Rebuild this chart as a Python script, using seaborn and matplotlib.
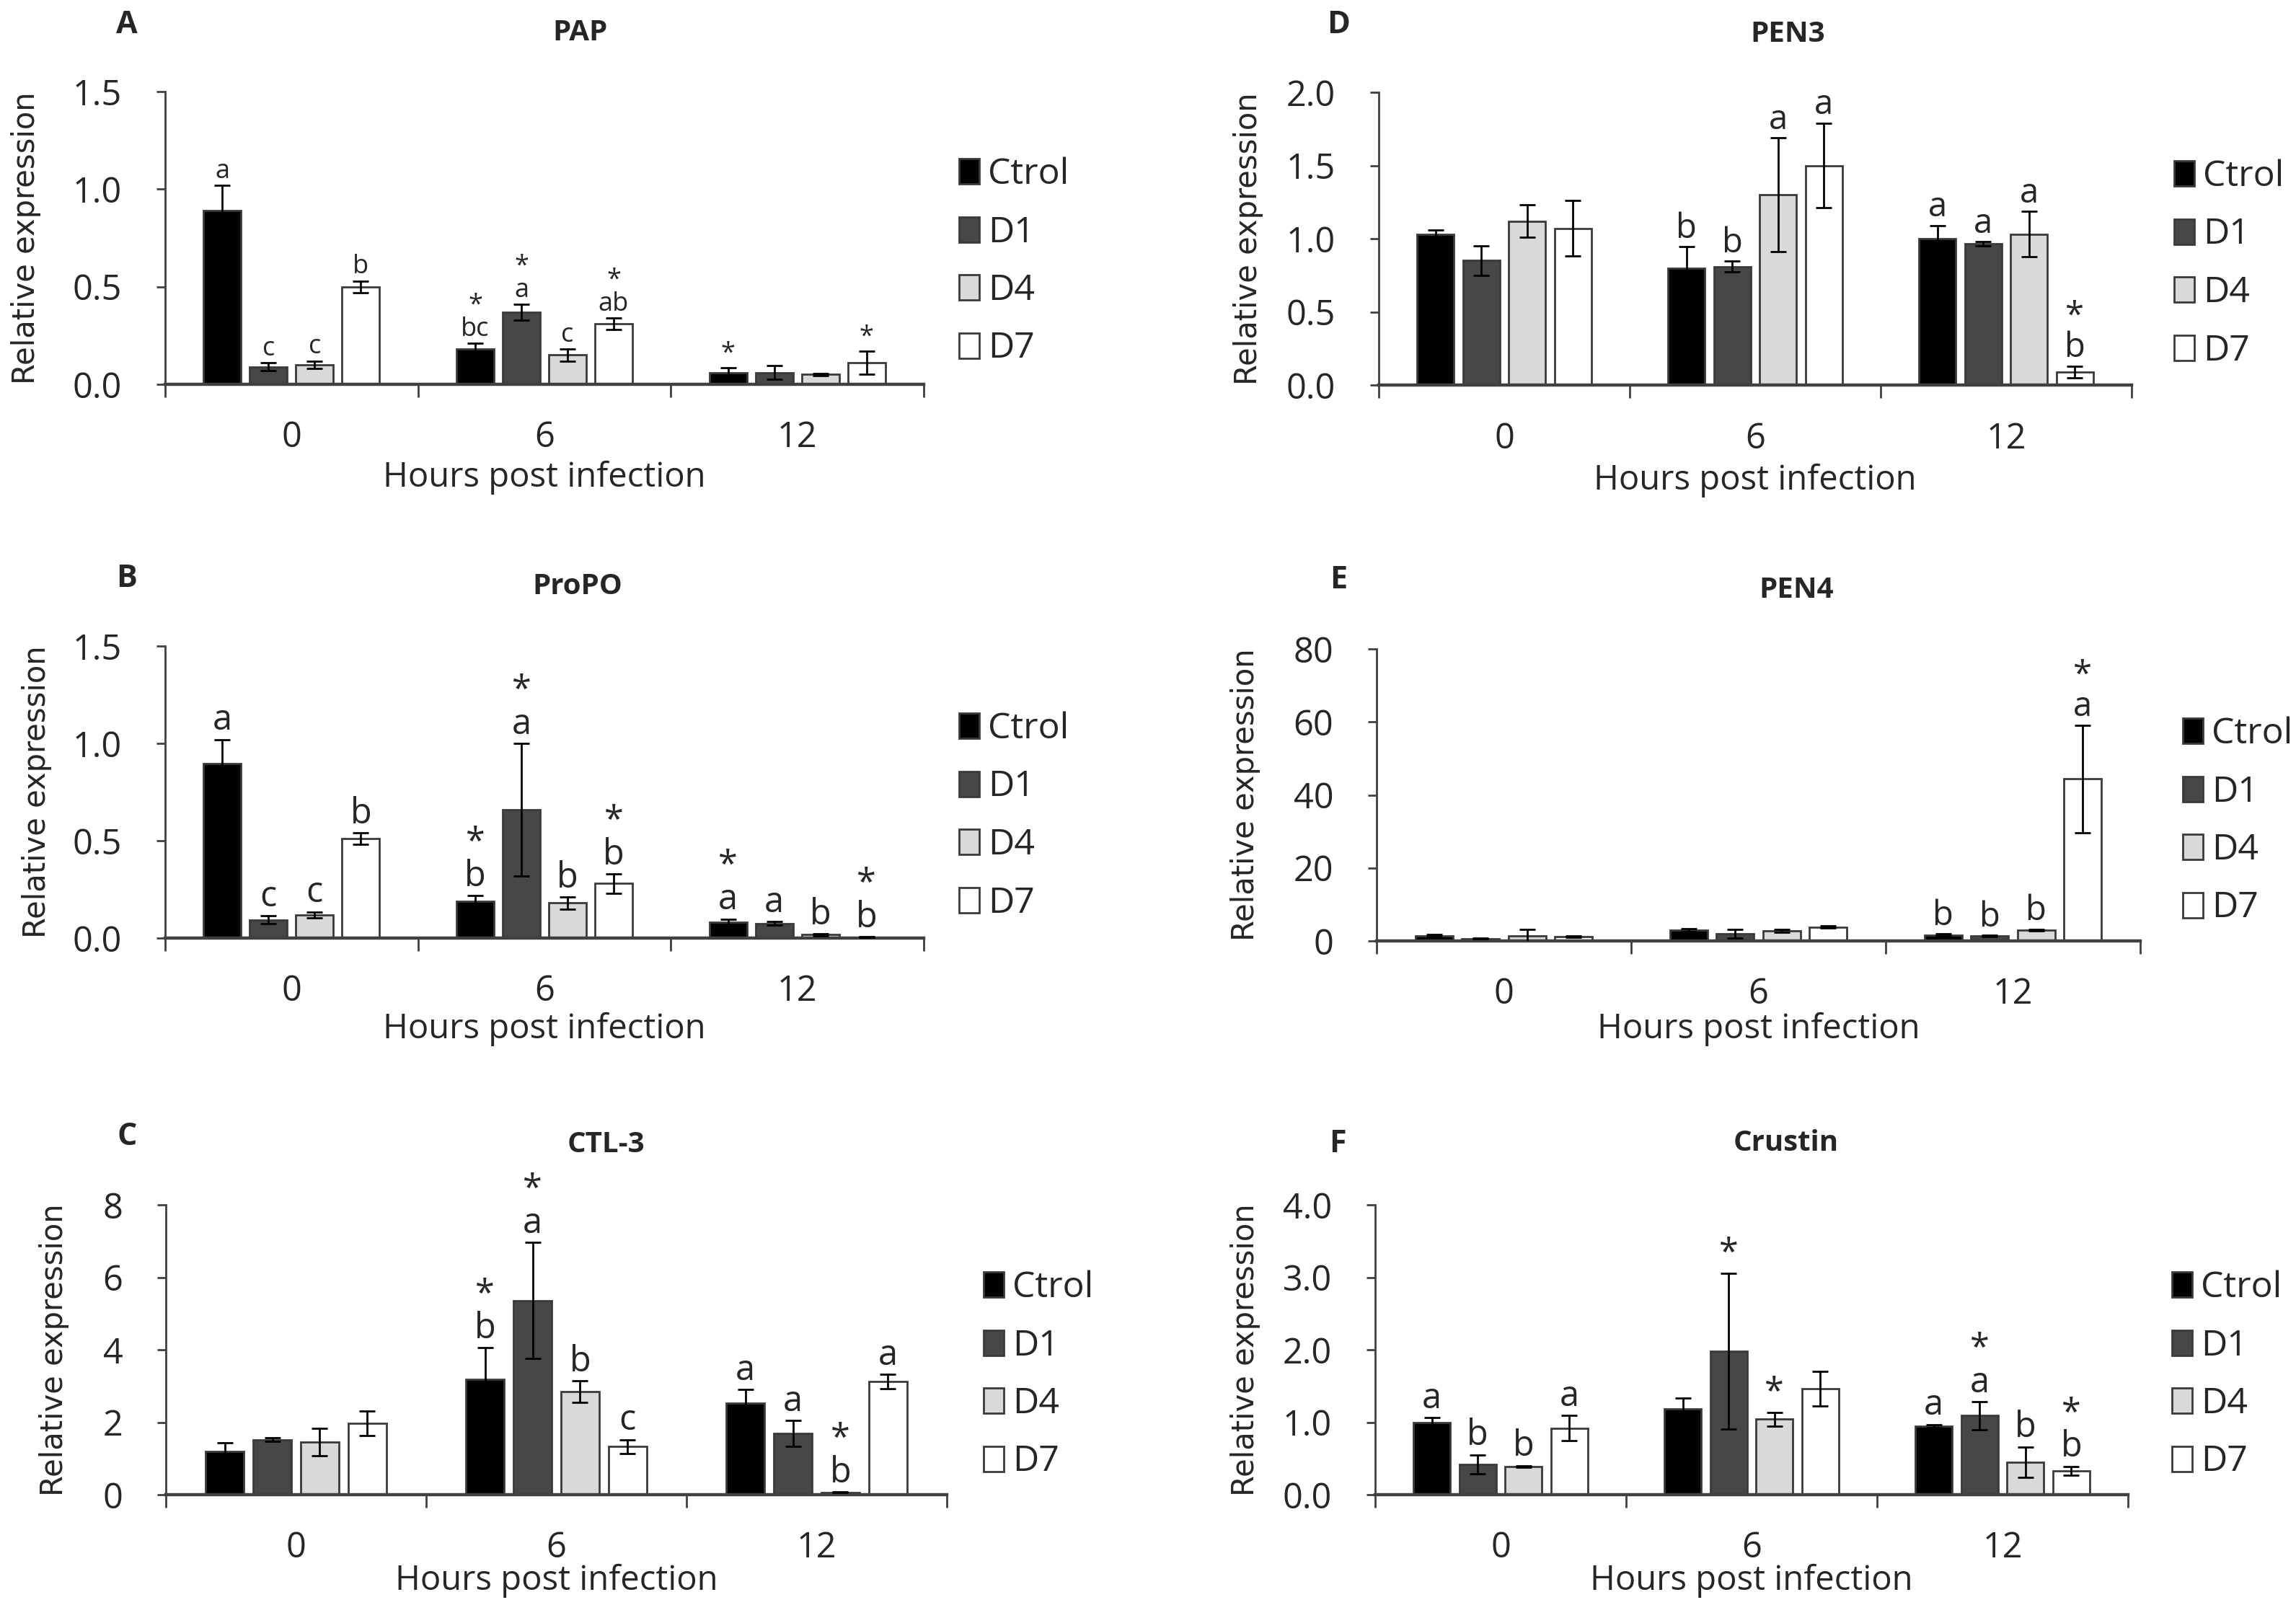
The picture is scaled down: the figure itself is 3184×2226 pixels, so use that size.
import matplotlib
matplotlib.use("Agg")
import matplotlib.pyplot as plt
import numpy as np
import pandas as pd
import seaborn as sns

# ---- data (rows: Ctrol, D1, D4, D7; columns: 0, 6, 12 hpi) ----
groups = ["Ctrol", "D1", "D4", "D7"]
hours = ["0", "6", "12"]

pap_mean = [[0.89, 0.18, 0.06], [0.09, 0.37, 0.06], [0.10, 0.15, 0.05], [0.50, 0.31, 0.11]]
pap_se = [[0.13, 0.03, 0.025], [0.02, 0.04, 0.035], [0.02, 0.03, 0.005], [0.03, 0.03, 0.06]]
pap_lab = [["a", "*\nbc", "*"], ["c", "*\na", ""], ["c", "c", ""], ["b", "*\nab", "*"]]

propo_mean = [[0.895, 0.19, 0.08], [0.094, 0.66, 0.075], [0.12, 0.18, 0.017], [0.51, 0.28, 0.005]]
propo_se = [[0.125, 0.027, 0.018], [0.02, 0.34, 0.01], [0.015, 0.03, 0.005], [0.03, 0.05, 0.002]]
propo_lab = [["a", "*\nb", "*\na"], ["c", "*\na", "a"], ["c", "b", "b"], ["b", "*\nb", "*\nb"]]

ctl3_mean = [[1.19, 3.18, 2.52], [1.52, 5.36, 1.69], [1.45, 2.84, 0.06], [1.97, 1.33, 3.12]]
ctl3_se = [[0.25, 0.87, 0.38], [0.05, 1.6, 0.35], [0.38, 0.30, 0.01], [0.33, 0.19, 0.2]]
ctl3_lab = [["", "*\nb", "a"], ["", "*\na", "a"], ["", "b", "*\nb"], ["", "c", "a"]]

pen3_mean = [[1.03, 0.80, 1.00], [0.85, 0.81, 0.965], [1.12, 1.30, 1.03], [1.07, 1.50, 0.09]]
pen3_se = [[0.03, 0.145, 0.09], [0.10, 0.035, 0.015], [0.11, 0.39, 0.155], [0.19, 0.29, 0.04]]
pen3_lab = [["", "b", "a"], ["", "b", "a"], ["", "a", "a"], ["", "a", "*\nb"]]

pen4_mean = [[1.4, 3.0, 1.6], [0.6, 2.0, 1.4], [1.4, 2.8, 3.0], [1.2, 3.8, 44.4]]
pen4_se = [[0.3, 0.4, 0.3], [0.1, 1.2, 0.2], [1.8, 0.4, 0.2], [0.2, 0.3, 14.7]]
pen4_lab = [["", "", "b"], ["", "", "b"], ["", "", "b"], ["", "", "*\na"]]

crus_mean = [[1.0, 1.18, 0.95], [0.42, 1.98, 1.09], [0.39, 1.04, 0.45], [0.92, 1.46, 0.33]]
crus_se = [[0.06, 0.15, 0.02], [0.13, 1.07, 0.19], [0.01, 0.09, 0.21], [0.17, 0.24, 0.06]]
crus_lab = [["a", "", "a"], ["b", "*", "*\na"], ["b", "*", "b"], ["a", "", "*\nb"]]

colors = {"Ctrol": "#000000", "D1": "#474747", "D4": "#d9d9d9", "D7": "#ffffff"}

W, H, DPI = 3184, 2226, 200
sns.set_style("white")
plt.rcParams["font.family"] = ["Open Sans", "DejaVu Sans"]

fig = plt.figure(figsize=(W / DPI, H / DPI), dpi=DPI)


def draw(letter, title, mean, se, lab, ylim, yticks, fmt, box, title_xy, letter_xy,
         ylab_x, xlab_y, leg_xy, ann_size):
    l, t, r, b = box
    ax = fig.add_axes([l / W, 1 - b / H, (r - l) / W, (b - t) / H])
    df = pd.DataFrame({"hour": np.tile(hours, len(groups)),
                       "group": np.repeat(groups, len(hours)),
                       "value": np.ravel(mean)})
    sns.barplot(data=df, x="hour", y="value", hue="group", order=hours, hue_order=groups,
                palette=colors, saturation=1, edgecolor="#3a3a3a", linewidth=1.0,
                width=0.73, gap=0.19, errorbar=None, ax=ax)

    # error bars + significance letters on top of each bar
    bar_conts = list(ax.containers)
    for gi, cont in enumerate(bar_conts):
        for p in cont.patches:
            xc = p.get_x() + p.get_width() / 2
            hi = int(round(xc))
            m, s = mean[gi][hi], se[gi][hi]
            ax.errorbar(xc, m, yerr=s, fmt="none", ecolor="black", elinewidth=1.0,
                        capsize=4, capthick=1.0, zorder=5)
            if lab[gi][hi]:
                ax.annotate(lab[gi][hi], (xc, m + s), xytext=(0, 0.5), textcoords="offset points",
                            ha="center", va="bottom", fontsize=ann_size, linespacing=0.9,
                            annotation_clip=False)

    ax.set_xlim(-0.5, 2.5)
    ax.set_ylim(*ylim)
    ax.set_yticks(yticks)
    ax.set_yticklabels([fmt.format(v) for v in yticks])
    ax.set_xticks(range(len(hours)))
    ax.set_xticklabels(hours)
    ax.set_xticks([-0.5, 0.5, 1.5, 2.5], minor=True)
    ax.tick_params(axis="x", which="major", length=0, pad=18, labelsize=17.5)
    ax.tick_params(axis="x", which="minor", length=6.5, width=1.0, direction="out",
                   color="#404040", bottom=True)
    ax.tick_params(axis="y", length=4.5, width=1.0, direction="out", pad=17,
                   labelsize=17.5, color="#404040", left=True)
    for side in ["top", "right"]:
        ax.spines[side].set_visible(False)
    ax.spines["left"].set_color("#404040")
    ax.spines["left"].set_linewidth(1.0)
    ax.spines["bottom"].set_color("#404040")
    ax.spines["bottom"].set_linewidth(1.6)

    ax.set_xlabel("Hours post infection", fontsize=17)
    ax.xaxis.set_label_coords(0.5, (b - xlab_y) / (b - t))
    ax.xaxis.label.set_va("center")
    ax.set_ylabel("Relative expression", fontsize=15, family="DejaVu Sans")
    ax.yaxis.set_label_coords((ylab_x - l) / (r - l), 0.5)
    ax.yaxis.label.set_va("center")

    fig.text(title_xy[0] / W, 1 - title_xy[1] / H, title, fontsize=14.5, fontweight="bold",
             ha="center", va="center")
    fig.text(letter_xy[0] / W, 1 - letter_xy[1] / H, letter, fontsize=15.5, fontweight="bold",
             ha="center", va="center")

    old = ax.get_legend()
    handles = old.legend_handles
    labels = [tx.get_text() for tx in old.get_texts()]
    ax.legend(handles, labels, loc="center left", bbox_to_anchor=(leg_xy[0] / W, 1 - leg_xy[1] / H),
              bbox_transform=fig.transFigure, frameon=False, fontsize=18, borderpad=0,
              borderaxespad=0, handlelength=0.55, handleheight=0.7, handletextpad=0.25,
              labelspacing=0.62)
    return ax


draw("A", "PAP", pap_mean, pap_se, pap_lab, (0, 1.5), [0, 0.5, 1.0, 1.5], "{:.1f}",
     (229, 127, 1281, 533), (804, 46), (176, 35), 36, 662, (1330, 363), 13)
draw("B", "ProPO", propo_mean, propo_se, propo_lab, (0, 1.5), [0, 0.5, 1.0, 1.5], "{:.1f}",
     (229, 896, 1281, 1301), (801, 814), (176, 802), 51, 1427, (1330, 1132), 17.5)
draw("C", "CTL-3", ctl3_mean, ctl3_se, ctl3_lab, (0, 8), [0, 2, 4, 6, 8], "{:.0f}",
     (230, 1671, 1313, 2073), (840, 1588), (176, 1576), 75, 2192, (1364, 1907), 17.5)
draw("D", "PEN3", pen3_mean, pen3_se, pen3_lab, (0, 2.0), [0, 0.5, 1.0, 1.5, 2.0], "{:.1f}",
     (1912, 128, 2956, 534), (2479, 47), (1856, 35), 1731, 666, (3015, 366), 17)
draw("E", "PEN4", pen4_mean, pen4_se, pen4_lab, (0, 80), [0, 20, 40, 60, 80], "{:.0f}",
     (1909, 900, 2968, 1305), (2491, 818), (1856, 805), 1727, 1427, (3027, 1139), 17)
draw("F", "Crustin", crus_mean, crus_se, crus_lab, (0, 4.0), [0, 1.0, 2.0, 3.0, 4.0], "{:.1f}",
     (1907, 1671, 2951, 2073), (2477, 1586), (1855, 1586), 1727, 2192, (3012, 1907), 17.5)

fig.savefig("out.png", dpi=DPI)
